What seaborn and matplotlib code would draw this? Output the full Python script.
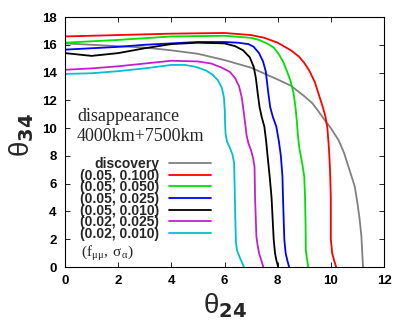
import numpy as np
import pandas as pd
import seaborn as sns
import matplotlib
matplotlib.use("Agg")
import matplotlib.pyplot as plt

# curves (theta24, theta34)
disc_x = [0, 1, 2, 3, 4, 5, 6, 7, 8, 8.5, 9, 9.3, 9.5, 9.8, 10.0, 10.3, 10.5, 10.7, 10.9, 11.0, 11.08, 11.15, 11.21]
disc_y = [16.1, 16.0, 15.9, 15.8, 15.6, 15.35, 14.9, 14.35, 13.5, 13.05, 12.3, 11.8, 11.3, 10.5, 10.0, 9.1, 8.2, 7.0, 5.8, 4.6, 3.5, 2.2, 0]

red_x = [0, 2, 4, 6, 7, 7.5, 8, 8.5, 8.8, 9, 9.2, 9.4, 9.55, 9.7, 9.8, 9.87, 9.93, 9.97, 10.0, 10.0, 10.05, 10.12, 10.2]
red_y = [16.6, 16.7, 16.8, 16.85, 16.7, 16.5, 16.15, 15.6, 15.15, 14.7, 14.1, 13.3, 12.4, 11.5, 10.8, 10.0, 8.5, 7, 5, 2, 1, 0.5, 0]

green_x = [0, 2, 4, 6, 7, 7.3, 7.6, 7.85, 8.05, 8.2, 8.35, 8.5, 8.6, 8.67, 8.72, 8.76, 8.82, 8.92, 9.0, 9.03, 9.05, 9.06, 9.1, 9.15]
green_y = [16.15, 16.35, 16.6, 16.65, 16.5, 16.35, 16.1, 15.8, 15.3, 14.8, 14.1, 13.3, 12.5, 11.5, 10.5, 9.5, 8.5, 7.5, 6.5, 5, 3, 1.2, 0.6, 0]

blue_x = [0, 1, 2, 3, 4, 5, 6, 6.5, 6.9, 7.1, 7.3, 7.45, 7.55, 7.6, 7.65, 7.72, 7.82, 7.95, 8.05, 8.12, 8.18, 8.2, 8.25, 8.3, 8.36, 8.43]
blue_y = [15.65, 15.75, 15.85, 16.0, 16.1, 16.2, 16.2, 16.15, 16.05, 15.85, 15.4, 14.8, 14.1, 13.3, 12.5, 11.5, 10.8, 10.1, 9.0, 8, 6.5, 5, 2, 1, 0.5, 0]

black_x = [0, 1, 2, 3, 4, 5, 6, 6.4, 6.7, 6.95, 7.1, 7.18, 7.25, 7.32, 7.4, 7.5, 7.57, 7.62, 7.7, 7.77, 7.85, 7.9, 7.95, 8.02]
black_y = [15.4, 15.2, 15.4, 15.75, 16.05, 16.15, 16.1, 15.9, 15.6, 15.1, 14.4, 13.6, 12.5, 11.5, 10.8, 10.1, 9.0, 8.0, 6.5, 5, 2, 1, 0.5, 0]

mag_x = [0, 1, 2, 3, 4, 5, 5.5, 5.9, 6.2, 6.4, 6.55, 6.65, 6.72, 6.78, 6.83, 6.9, 7.0, 7.08, 7.13, 7.15, 7.2, 7.25, 7.3, 7.38, 7.46]
mag_y = [14.2, 14.3, 14.45, 14.65, 14.85, 14.8, 14.65, 14.35, 14.05, 13.6, 13.0, 12.2, 11.2, 10.3, 9.5, 8.9, 8.4, 7.8, 7.2, 5, 2.2, 1.5, 1, 0.5, 0]

cyan_x = [0, 1, 2, 3, 4, 4.5, 4.9, 5.3, 5.55, 5.75, 5.9, 5.98, 6.01, 6.02, 6.04, 6.1, 6.2, 6.3, 6.36, 6.38, 6.4, 6.43, 6.47, 6.55, 6.73]
cyan_y = [13.9, 13.95, 14.1, 14.3, 14.55, 14.55, 14.42, 14.15, 13.85, 13.45, 12.9, 12.2, 11.3, 10.4, 9.6, 9.0, 8.6, 8.1, 7.5, 6, 4, 1.8, 1.2, 0.8, 0]

labels = ["discovery", "(0.05, 0.100)", "(0.05, 0.050)", "(0.05, 0.025)",
          "(0.05, 0.010)", "(0.02, 0.025)", "(0.02, 0.010)"]
colors = ["#808080", "#ff0000", "#00e000", "#0000ff", "#000000", "#c020d0", "#00c0d0"]
xs = [disc_x, red_x, green_x, blue_x, black_x, mag_x, cyan_x]
ys = [disc_y, red_y, green_y, blue_y, black_y, mag_y, cyan_y]

rows = []
for lab, x, y in zip(labels, xs, ys):
    for i in range(len(x)):
        rows.append({"t24": x[i], "t34": y[i], "case": lab})
df = pd.DataFrame(rows)

sns.set_style("ticks")
plt.rcParams["font.family"] = ["Liberation Sans", "DejaVu Sans"]

fig = plt.figure(figsize=(4.09, 3.26), dpi=100)
ax = fig.add_axes([65 / 409, (326 - 267) / 326, 319 / 409, 250 / 326])

sns.lineplot(data=df, x="t24", y="t34", hue="case", hue_order=labels,
             palette=dict(zip(labels, colors)), sort=False, estimator=None,
             units="case", lw=1.3, legend=False, ax=ax)

ax.set_xlim(0, 12)
ax.set_ylim(0, 18)
ax.set_xticks(np.arange(0, 13, 2))
ax.set_yticks(np.arange(0, 19, 2))
ax.set_xlabel("")
ax.set_ylabel("")
for s in ax.spines.values():
    s.set_visible(True)
    s.set_linewidth(0.8)
    s.set_color("black")
ax.tick_params(direction="in", length=3.6, width=0.6, top=True, right=True,
               labelsize=9.5, pad=6, colors="black")
for t in ax.get_xticklabels() + ax.get_yticklabels():
    t.set_fontweight("bold")

leg = ax.legend(ax.lines, labels, loc="upper right",
                bbox_to_anchor=(211 / 409, 1 - 157 / 326),
                bbox_transform=fig.transFigure, markerfirst=False,
                frameon=False, handlelength=3.0, handletextpad=0.75,
                labelspacing=-0.17, borderpad=0, borderaxespad=0,
                prop={"family": "Liberation Sans", "weight": "bold", "size": 10})

fig.text(77 / 409, 1 - 121 / 326, "disappearance", family="Liberation Serif",
         fontsize=13, va="baseline", ha="left")
fig.text(77 / 409, 1 - 141 / 326, "4000km+7500km", family="Liberation Serif",
         fontsize=13, va="baseline", ha="left")
fig.text(81 / 409, 1 - 257 / 326, r"$\mathregular{(f_{\mu\mu},\ \sigma_{\alpha})}$",
         family="Liberation Serif", math_fontfamily="stix", fontsize=11,
         va="baseline", ha="left")

fig.text(225 / 409, 1 - 313 / 326, r"$\mathregular{\theta}_{\mathbf{24}}$",
         fontsize=20, ha="center", va="baseline", math_fontfamily="dejavusans")
fig.text(22 / 409, 1 - 135 / 326, r"$\mathregular{\theta}_{\mathbf{34}}$",
         fontsize=20, ha="center", va="center", rotation=90,
         math_fontfamily="dejavusans")

fig.savefig("out.png", dpi=100)
